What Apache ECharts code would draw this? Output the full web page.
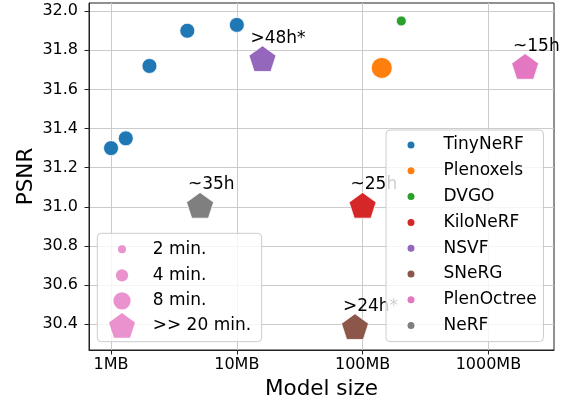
<!DOCTYPE html>
<html>
<head>
<meta charset="utf-8">
<script src="https://cdn.jsdelivr.net/npm/echarts@6/dist/echarts.min.js"></script>
<style>
html,body{margin:0;padding:0;background:#fff;}
#chart{width:574px;height:405px;}
</style>
</head>
<body>
<div id="chart"></div>
<script>
// ---- data ----
const methods = ['TinyNeRF', 'Plenoxels', 'DVGO', 'KiloNeRF', 'NSVF', 'SNeRG', 'PlenOctree', 'NeRF'];
const tinyNerfSize = [1, 1.31, 2.02, 4.04, 10];           // MB
const tinyNerfPsnr = [31.30, 31.35, 31.72, 31.90, 31.93];
const otherMethods = ['Plenoxels', 'DVGO', 'KiloNeRF', 'NSVF', 'SNeRG', 'PlenOctree', 'NeRF'];
const otherSize = [142, 203, 100, 16, 87, 1960, 5.1];      // MB
const otherPsnr = [31.71, 31.95, 31.00, 31.75, 30.38, 31.71, 31.00];
const timeLabels = ['', '', '~25h', '>48h*', '>24h*', '~15h', '~35h'];
const sizeLegend = ['2 min.', '4 min.', '8 min.', '>> 20 min.'];
const xTicks = [1, 10, 100, 1000];
const xTickLabels = ['1MB', '10MB', '100MB', '1000MB'];
const yTicks = [30.4, 30.6, 30.8, 31.0, 31.2, 31.4, 31.6, 31.8, 32.0];

// ---- styles ----
const colors = {
  TinyNeRF: '#1f77b4', Plenoxels: '#ff7f0e', DVGO: '#2ca02c', KiloNeRF: '#d62728',
  NSVF: '#9467bd', SNeRG: '#8c564b', PlenOctree: '#e377c2', NeRF: '#7f7f7f'
};
const PENT = 'path://M0,-100L95.1,-30.9L58.8,80.9L-58.8,80.9L-95.1,-30.9Z';
const markers = {
  TinyNeRF: {symbol: 'circle', size: 15},
  Plenoxels: {symbol: 'circle', size: 21},
  DVGO: {symbol: 'circle', size: 10},
  KiloNeRF: {symbol: PENT, size: [27, 25.7]},
  NSVF: {symbol: PENT, size: [27, 25.7]},
  SNeRG: {symbol: PENT, size: [27, 25.7]},
  PlenOctree: {symbol: PENT, size: [27, 25.7]},
  NeRF: {symbol: PENT, size: [27, 25.7]}
};
const FONT = 'DejaVu Sans';
const PINK = '#e377c2';

const series = [];
series.push({
  type: 'scatter', name: 'TinyNeRF', z: 2,
  symbol: markers.TinyNeRF.symbol, symbolSize: markers.TinyNeRF.size,
  itemStyle: {color: colors.TinyNeRF, borderColor: '#fff', borderWidth: 0.8, opacity: 1},
  data: tinyNerfSize.map((s, i) => [s, tinyNerfPsnr[i]])
});
otherMethods.forEach((m, i) => {
  const pent = markers[m].symbol === PENT;
  series.push({
    type: 'scatter', name: m, z: 2,
    symbol: markers[m].symbol, symbolSize: markers[m].size,
    symbolOffset: pent ? [0, -1.5] : [0, 0],
    itemStyle: {color: colors[m], borderColor: '#fff', borderWidth: 0.8, opacity: 1},
    label: {
      show: !!timeLabels[i], formatter: timeLabels[i],
      position: [1.8, 1.45], align: 'left', verticalAlign: 'bottom',
      fontFamily: FONT, fontSize: 17, lineHeight: 17, color: '#000'
    },
    emphasis: {disabled: true},
    data: [[otherSize[i], otherPsnr[i]]]
  });
});
// dummy series for training-time size legend
sizeLegend.forEach(n => {
  series.push({type: 'scatter', name: n, data: [], itemStyle: {color: PINK}});
});

const sizeIcons = [
  {icon: 'circle', w: 8, h: 8},
  {icon: 'circle', w: 12.3, h: 12.3},
  {icon: 'circle', w: 17.3, h: 17.3},
  {icon: PENT, w: 26, h: 24.8}
];
const sizeRowY = [249.3, 275.3, 300.8, 325.5];
const legendCx = 122, legendTextX = 152.7;

const legends = [{
  data: methods, orient: 'vertical', left: 386, top: 130,
  icon: 'circle', itemWidth: 9, itemHeight: 9, itemGap: 8.8,
  padding: [6.5, 6.8, 7.5, 19.5],
  backgroundColor: 'rgba(255,255,255,0.8)', borderColor: '#cccccc', borderWidth: 1, borderRadius: 4,
  selectedMode: false, z: 4,
  textStyle: {fontFamily: FONT, fontSize: 17, lineHeight: 17, color: '#000', padding: [0, 0, 0, 23]}
}];
sizeLegend.forEach((n, i) => {
  const ic = sizeIcons[i];
  const itemH = Math.max(ic.h, 17);
  legends.push({
    data: [n], orient: 'vertical', icon: ic.icon, itemWidth: ic.w, itemHeight: ic.h,
    left: legendCx - ic.w / 2, top: sizeRowY[i] - itemH / 2, padding: 0,
    selectedMode: false, z: 5,
    textStyle: {fontFamily: FONT, fontSize: 17, lineHeight: 17, color: '#000',
      padding: [0, 0, 0, legendTextX - (legendCx + ic.w / 2 + 5)]}
  });
});

const chart = echarts.init(document.getElementById('chart'), null, {renderer: 'canvas'});
chart.setOption({
  animation: false,
  backgroundColor: '#fff',
  grid: {left: 89, top: 3, width: 465, height: 348, show: true, borderColor: '#222', borderWidth: 1, backgroundColor: 'transparent'},
  xAxis: {
    type: 'log', logBase: 10, min: 0.668, max: 3323,
    name: 'Model size', nameLocation: 'middle', nameGap: 28, nameMoveOverlap: false,
    nameTextStyle: {fontFamily: FONT, fontSize: 21.5, color: '#000'},
    axisLine: {show: true, lineStyle: {color: '#222', width: 1}},
    axisTick: {show: true, length: 4.5, inside: false, customValues: xTicks, lineStyle: {color: '#222'}},
    minorTick: {show: false},
    axisLabel: {customValues: xTicks, margin: 7, fontFamily: FONT, fontSize: 16, color: '#000',
      formatter: v => { const k = xTicks.findIndex(t => Math.abs(t - v) / t < 1e-6); return k >= 0 ? xTickLabels[k] : ''; }},
    splitLine: {show: true, lineStyle: {color: '#cbcbcb', width: 1}}
  },
  yAxis: {
    type: 'value', min: 30.268, max: 32.042, splitNumber: 8,
    name: 'PSNR', nameLocation: 'middle', nameGap: 52, nameRotate: 90, nameMoveOverlap: false,
    nameTextStyle: {fontFamily: FONT, fontSize: 21.5, color: '#000'},
    axisLine: {show: true, lineStyle: {color: '#222', width: 1}},
    axisTick: {show: true, length: 4.5, inside: false, customValues: yTicks, lineStyle: {color: '#222'}},
    axisLabel: {customValues: yTicks, margin: 11, fontFamily: FONT, fontSize: 16, color: '#000',
      formatter: v => v.toFixed(1)},
    splitLine: {show: true, lineStyle: {color: '#cbcbcb', width: 1}}
  },
  legend: legends,
  graphic: [{
    type: 'rect', z: 3, silent: true,
    shape: {x: 97.3, y: 233.3, width: 164.4, height: 108.4, r: 4},
    style: {fill: 'rgba(255,255,255,0.8)', stroke: '#cccccc', lineWidth: 1}
  }],
  series: series
});
</script>
</body>
</html>
